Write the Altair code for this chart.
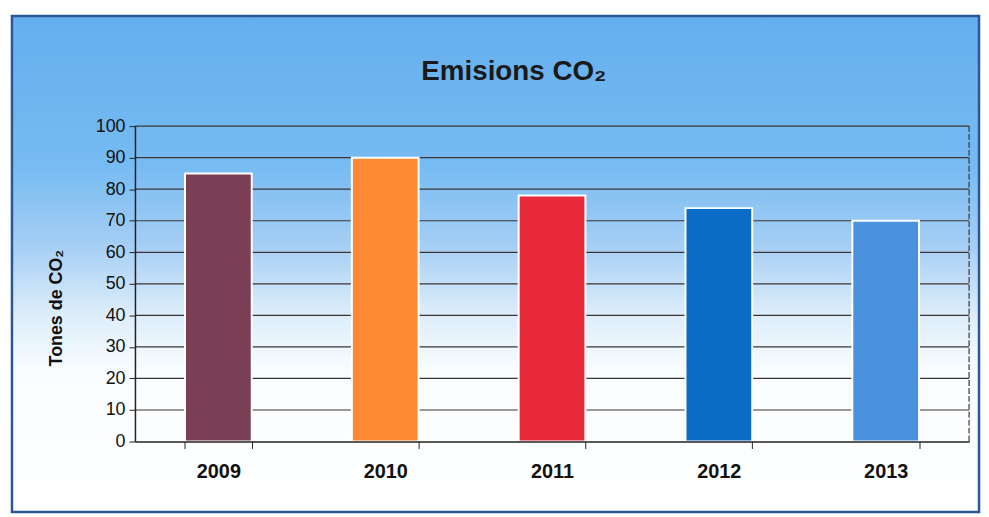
import altair as alt
import pandas as pd

years = ["2009", "2010", "2011", "2012", "2013"]
values = [85, 90, 78, 74, 70]
bar_colors = ["#7B3F55", "#FF8A33", "#E92A3A", "#0B6CC6", "#4A92DE"]
grid_values = [10, 20, 30, 40, 50, 60, 70, 80, 90, 100]
y_ticks = [0, 10, 20, 30, 40, 50, 60, 70, 80, 90, 100]
title_text = "Emisions CO₂"
y_title = "Tones de CO₂"

W, H = 841, 318
FONT = "Liberation Sans"

bars_df = pd.DataFrame({"year": years, "value": values})
grid_df = pd.DataFrame({"value": grid_values})
one = pd.DataFrame({"a": [0]})

y_axis = alt.Axis(
    values=y_ticks,
    grid=False, labelFontSize=18, labelFont=FONT, labelColor="#111111",
    labelPadding=4, tickSize=6, tickColor="#222222", domainColor="#222222",
    domainWidth=1.5, titleFontSize=18, titleFont=FONT, titleFontWeight="bold",
    titleColor="#111111", titleX=-70, titleY=183, zindex=1,
)
y_scale = alt.Scale(domain=[0, 100])

bg = alt.Chart(one).mark_rect(
    fill=alt.Gradient(
        gradient="linear",
        x1=0, x2=0, y1=0, y2=1,
        stops=[
            alt.GradientStop(color="#64AFEE", offset=0),
            alt.GradientStop(color="#76BBF2", offset=0.3),
            alt.GradientStop(color="#A4CEF4", offset=0.46),
            alt.GradientStop(color="#DCEDFA", offset=0.6),
            alt.GradientStop(color="#FAFDFF", offset=0.72),
            alt.GradientStop(color="#FFFFFF", offset=1),
        ],
    ),
    stroke="#2A5896",
    strokeWidth=2.5,
).encode(
    x=alt.value(-124), x2=alt.value(851),
    y=alt.value(-111), y2=alt.value(389),
)

grid = alt.Chart(grid_df).mark_rule(color="#3C3434", strokeWidth=1.2).encode(
    y=alt.Y("value:Q", axis=y_axis, scale=y_scale, title=y_title),
    x=alt.value(0), x2=alt.value(W),
)

bars = alt.Chart(bars_df).mark_bar(stroke="white", strokeWidth=2).encode(
    x=alt.X(
        "year:N",
        sort=years,
        title=None,
        scale=alt.Scale(paddingInner=0.6, paddingOuter=0.3),
        axis=alt.Axis(
            labelAngle=0, labelFontSize=20, labelFontWeight="bold", labelFont=FONT,
            labelColor="#111111", labelPadding=13, tickBand="extent", tickSize=7,
            tickColor="#222222", domainColor="#222222", domainWidth=1.5, zindex=1,
        ),
    ),
    y=alt.Y("value:Q", scale=y_scale, title=y_title, axis=y_axis),
    color=alt.Color("year:N", scale=alt.Scale(domain=years, range=bar_colors), legend=None),
)

edge = alt.Chart(one).mark_rule(color="#3C3434", strokeWidth=1.2, strokeDash=[6, 2]).encode(
    x=alt.value(W), y=alt.value(0), y2=alt.value(H),
)

title = alt.Chart(one).mark_text(
    text=title_text, fontSize=28, fontWeight="bold", font=FONT, color="#1a1a1a",
    align="center", baseline="middle",
).encode(x=alt.value(382), y=alt.value(-55))

chart = alt.layer(bg, grid, bars, edge, title).properties(
    width=W, height=H,
    padding={"left": 2, "top": 4, "right": 0, "bottom": 0},
).configure_view(stroke=None)

chart.save("out.html", embed_options={"renderer": "svg", "actions": False})
